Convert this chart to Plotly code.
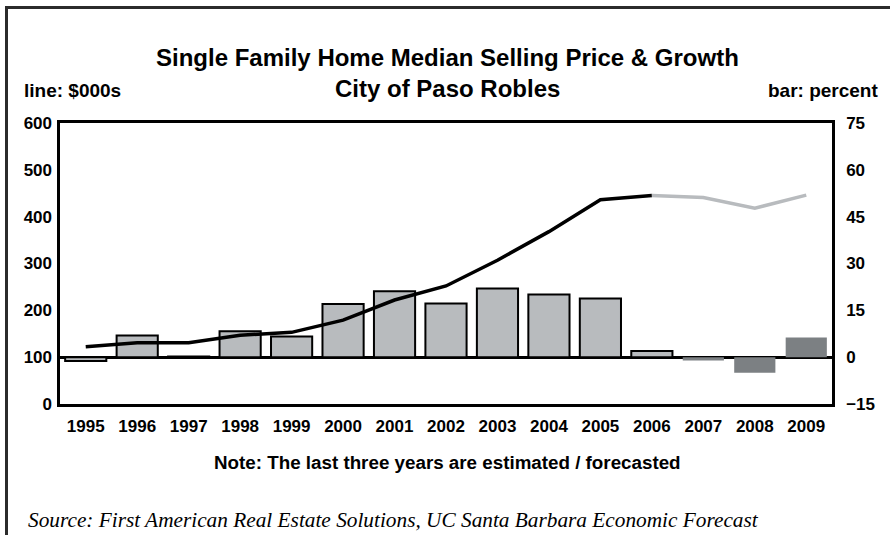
import plotly.graph_objects as go

years = ["1995", "1996", "1997", "1998", "1999", "2000", "2001", "2002",
         "2003", "2004", "2005", "2006", "2007", "2008", "2009"]
price_k = [122, 131, 131, 147, 153, 179, 222, 252, 307, 368, 436, 445, 441, 418, 446]
growth_pct = [-1.2, 6.9, 0.2, 8.3, 6.6, 17.0, 21.1, 17.2, 22.0, 20.1, 18.8, 2.0, -1.1, -5.0, 6.3]
n_forecast = 3
left_ticks = [0, 100, 200, 300, 400, 500, 600]
right_ticks = [-15, 0, 15, 30, 45, 60, 75]

W, H = 890, 535
# plot area in page pixels: x 60..832, y 123..404 (body margin removed via post_script)
L, T = 60, 123
R = W - 832
B = H - 404
PW, PH = W - L - R, H - T - B


def px(x):
    return (x - L) / PW


def py(y):
    return (H - B - y) / PH


n = len(years)
n_act = n - n_forecast
LIGHT = "#b8bbbe"
DARK = "#7c8083"

bar_colors = [LIGHT] * n_act + [DARK] * n_forecast
bar_lw = [2] * n_act + [0] * n_forecast

fig = go.Figure()
fig.add_trace(go.Bar(
    x=years, y=growth_pct, yaxis="y",
    marker=dict(color=bar_colors, line=dict(color="black", width=bar_lw)),
    showlegend=False,
))
fig.add_trace(go.Scatter(
    x=years[:n_act], y=price_k[:n_act], yaxis="y2", mode="lines",
    line=dict(color="black", width=3.5), showlegend=False,
))
fig.add_trace(go.Scatter(
    x=years[n_act - 1:], y=price_k[n_act - 1:], yaxis="y2", mode="lines",
    line=dict(color=LIGHT, width=3.5), showlegend=False,
))

tickfont = dict(family="Liberation Sans, Arial", size=17, color="black", weight="bold")

fig.update_layout(
    width=W, height=H,
    margin=dict(l=L, r=R, t=T, b=B),
    paper_bgcolor="white", plot_bgcolor="white",
    bargap=0.2,
    xaxis=dict(type="category", showgrid=False, showline=True, mirror=True,
               linecolor="black", linewidth=2.5, ticks="", tickfont=tickfont,
               ticklabelstandoff=5),
    yaxis=dict(side="right", range=[-15, 75], tickvals=right_ticks,
               showgrid=False, showline=True, mirror=True, linecolor="black",
               linewidth=2.5, ticks="", tickfont=tickfont,
               zeroline=True, zerolinecolor="black", zerolinewidth=2.5,
               ticklabelstandoff=8),
    yaxis2=dict(side="left", overlaying="y", range=[0, 600], tickvals=left_ticks,
                showgrid=False, showline=False, zeroline=False, ticks="",
                tickfont=tickfont, ticklabelstandoff=7),
)

bold = dict(family="Liberation Sans, Arial", color="black")
annos = [
    dict(text="<b>Single Family Home Median Selling Price & Growth</b>",
         x=px(447), y=py(58), xanchor="center", font=dict(size=24, **bold)),
    dict(text="<b>City of Paso Robles</b>",
         x=px(447), y=py(89), xanchor="center", font=dict(size=24, **bold)),
    dict(text="<b>line: $000s</b>", x=px(22), y=py(90), xanchor="left",
         font=dict(size=19, **bold)),
    dict(text="<b>bar: percent</b>", x=px(880), y=py(90), xanchor="right",
         font=dict(size=19, **bold)),
    dict(text="<b>Note: The last three years are estimated / forecasted</b>",
         x=px(447), y=py(462), xanchor="center", font=dict(size=18.8, **bold)),
    dict(text="<i>Source: First American Real Estate Solutions, UC Santa Barbara Economic Forecast</i>",
         x=px(26), y=py(520), xanchor="left",
         font=dict(family="Liberation Serif, Times New Roman", size=21.3, color="black")),
]
for a in annos:
    a.update(xref="paper", yref="paper", yanchor="middle", showarrow=False)
fig.update_layout(annotations=annos)

fig.add_shape(type="rect", xref="paper", yref="paper",
              x0=px(6.5), x1=px(905), y0=py(550), y1=py(7.5),
              line=dict(color="#2b2b2b", width=3), fillcolor="rgba(0,0,0,0)",
              layer="below")

fig.write_html("out.html",
               config={"displayModeBar": False},
               post_script="document.body.style.margin='0';document.body.style.padding='0';")
